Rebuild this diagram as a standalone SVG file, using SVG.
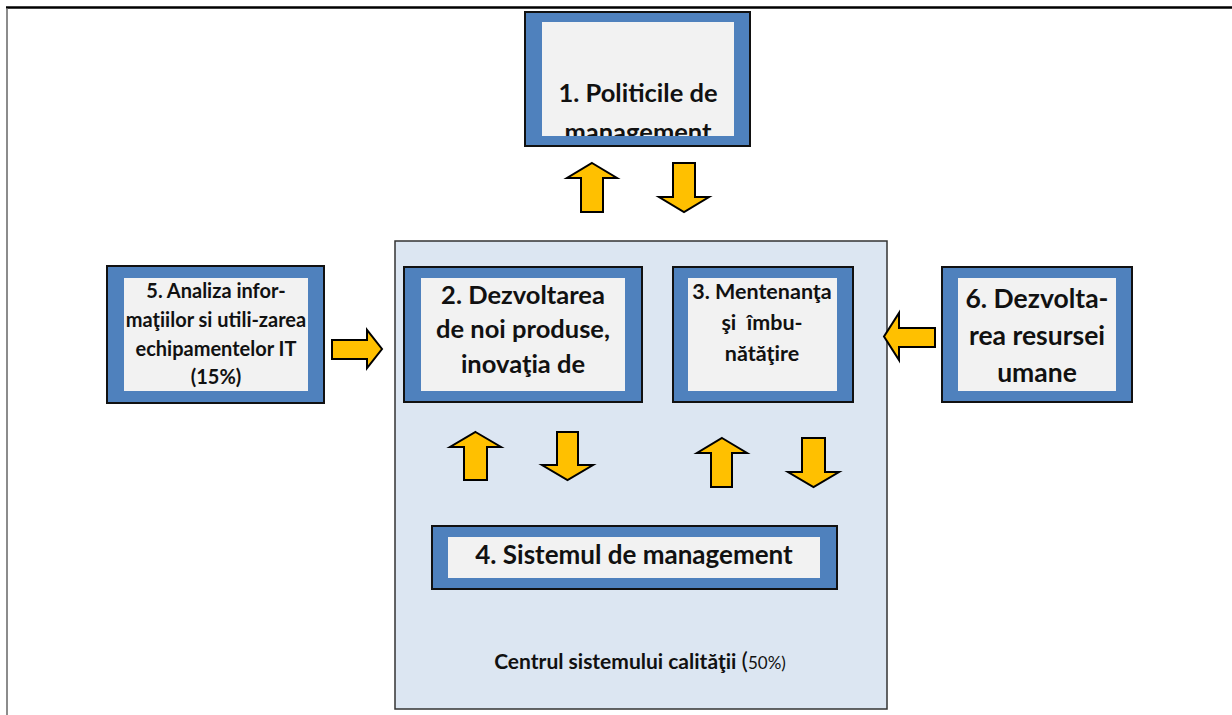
<svg xmlns="http://www.w3.org/2000/svg" width="1232" height="715" viewBox="0 0 1232 715">
<style>
.outer{fill:#4F81BD;stroke:#111;stroke-width:2}
.inner{fill:#F2F2F2}
.main{fill:#DCE6F2;stroke:#333;stroke-width:1.5}
.arr{fill:#FFC000;stroke:#000;stroke-width:2;stroke-linejoin:miter}
.t{font-family:Lato,"Liberation Sans",sans-serif;font-weight:bold;fill:#111;text-anchor:middle}
</style>
<defs>
<clipPath id="c1"><rect x="542" y="22" width="192" height="114"/></clipPath>
</defs>
<rect x="0" y="0" width="1232" height="715" fill="#fff"/>
<line x1="6" y1="7.5" x2="1232" y2="7.5" stroke="#000" stroke-width="2.5"/>
<line x1="7" y1="8" x2="7" y2="715" stroke="#666" stroke-width="1.5"/>
<g id="main">
<rect class="main" x="395" y="241" width="492" height="468"/>
<text class="t" x="640" y="669" font-size="21">Centrul sistemului calităţii <tspan font-size="24" font-weight="normal">(</tspan><tspan font-size="17" font-weight="normal">50%)</tspan></text>
</g>
<g id="node1">
<rect class="outer" x="525" y="12" width="225" height="134"/>
<rect class="inner" x="542" y="22" width="192" height="114"/>
<g clip-path="url(#c1)">
<text class="t" x="638" y="102" font-size="25.5">1. Politicile de</text>
<text class="t" x="638" y="141" font-size="25.5">management</text>
</g>
</g>
<g id="node5">
<rect class="outer" x="107" y="266" width="217" height="137"/>
<rect class="inner" x="124" y="278" width="184" height="113"/>
<text class="t" x="216" y="298" font-size="20">5. Analiza infor-</text>
<text class="t" x="216" y="327" font-size="20">maţiilor si utili-zarea</text>
<text class="t" x="216" y="356" font-size="20">echipamentelor IT</text>
<text class="t" x="216" y="384" font-size="20" font-weight="normal">(15%)</text>
</g>
<g id="node2">
<rect class="outer" x="404" y="267" width="238" height="135"/>
<rect class="inner" x="421" y="278" width="204" height="113"/>
<text class="t" x="523" y="304" font-size="25.5">2. Dezvoltarea</text>
<text class="t" x="523" y="338" font-size="25.5">de noi produse,</text>
<text class="t" x="523" y="373" font-size="25.5">inovaţia de</text>
</g>
<g id="node3">
<rect class="outer" x="673" y="267" width="180" height="135"/>
<rect class="inner" x="688" y="278" width="149" height="113"/>
<text class="t" x="762" y="299" font-size="21.5">3. Mentenanţa</text>
<text class="t" x="762" y="330" font-size="21.5" xml:space="preserve">şi  îmbu-</text>
<text class="t" x="762" y="361" font-size="21.5">nătăţire</text>
</g>
<g id="node6">
<rect class="outer" x="942" y="267" width="190" height="135"/>
<rect class="inner" x="958" y="278" width="158" height="113"/>
<text class="t" x="1037" y="308" font-size="26.5">6. Dezvolta-</text>
<text class="t" x="1037" y="345" font-size="26.5">rea resursei</text>
<text class="t" x="1037" y="382" font-size="26.5">umane</text>
</g>
<g id="node4">
<rect class="outer" x="432" y="526" width="405" height="63"/>
<rect class="inner" x="448" y="537" width="372" height="41"/>
<text class="t" x="634" y="564" font-size="26">4. Sistemul de management</text>
</g>
<g id="connectors">
<path class="arr" d="M592,163 L617,178 L603,178 L603,212 L581,212 L581,178 L567,178 Z"/>
<path class="arr" d="M673,163 L695,163 L695,197 L709,197 L684,212 L659,197 L673,197 Z"/>
<path class="arr" d="M332,340 L367,340 L367,330 L382,349 L367,368 L367,359 L332,359 Z"/>
<path class="arr" d="M935,328 L899,328 L899,313 L884,336.5 L899,360 L899,347 L935,347 Z"/>
<path class="arr" d="M475.5,432 L501,447 L487,447 L487,480 L464,480 L464,447 L450,447 Z"/>
<path class="arr" d="M557,432 L578,432 L578,465 L593,465 L567.5,480 L542,465 L557,465 Z"/>
<path class="arr" d="M722,438 L747,453 L732,453 L732,487 L711,487 L711,453 L697,453 Z"/>
<path class="arr" d="M802,438 L825,438 L825,472 L839,472 L813.5,487 L788,472 L802,472 Z"/>
</g>
</svg>
